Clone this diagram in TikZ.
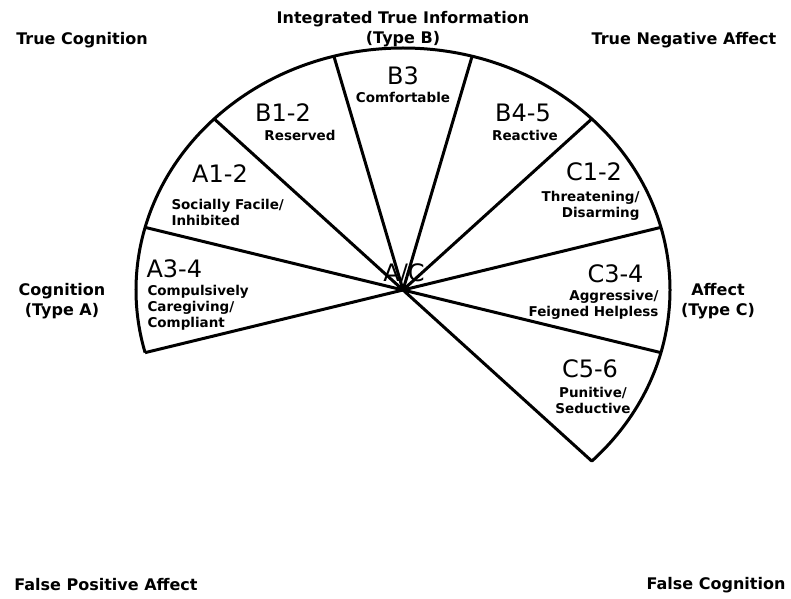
\documentclass[tikz,border=0pt]{standalone}
\usepackage{fontspec}
\newfontfamily\dejavu{DejaVu Sans}

\begin{document}
\begin{tikzpicture}[x=1pt,y=1pt,line width=3pt,line join=round,
  corner/.style={font=\dejavu\bfseries\fontsize{16}{19.5}\selectfont,align=center,inner sep=0pt},
  code/.style={font=\dejavu\fontsize{24}{26}\selectfont,inner sep=0pt},
  desc/.style={font=\dejavu\bfseries\fontsize{13.5}{16}\selectfont,inner sep=0pt}]

\useasboundingbox (0,0) rectangle (791,598);

\coordinate (c) at (403,308);
\foreach \a [count=\i] in {195,165,...,-45}
  \path (c) ++(\a:267 and 242) coordinate (e\i);

\draw (e1) -- (c) -- (e9) arc[start angle=-45,end angle=195,x radius=267,y radius=242];
\foreach \i in {2,...,8}
  \draw (c) -- (e\i);

\node [code] (b3) at (403,522) {B3};
\node [desc] (b3d) at (403,501) {Comfortable};
\node [code] (b12) at (283,485) {B1-2};
\node [desc] (b12d) at (300,463) {Reserved};
\node [code] (b45) at (523,485) {B4-5};
\node [desc] (b45d) at (525,463) {Reactive};

\node [code] (a12) at (220,424) {A1-2};
\node [desc,align=left,anchor=west] (a12d) at (170,386) {Socially Facile/\\Inhibited};
\node [code,anchor=west] (a34) at (145,329) {A3-4};
\node [desc,align=left,anchor=west] (a34d) at (146,290) {Compulsively\\Caregiving/\\Compliant};

\node [code] (c12) at (594,426) {C1-2};
\node [desc,align=right,anchor=east] (c12d) at (641,392) {Threatening/\\Disarming};
\node [code,anchor=east] (c34) at (645,324) {C3-4};
\node [desc,align=right,anchor=east] (c34d) at (660,293) {Aggressive/\\Feigned Helpless};
\node [code] (c56) at (590,229) {C5-6};
\node [desc,align=center] (c56d) at (593,198) {Punitive/\\Seductive};

\node [code] (ac) at (404,324) {A/C};

\node [corner] (tc) at (82,558) {True Cognition};
\node [corner] (iti) at (403,569) {Integrated True Information\\(Type B)};
\node [corner] (tna) at (684,558) {True Negative Affect};
\node [corner] (cog) at (62,297) {Cognition\\(Type A)};
\node [corner] (aff) at (718,297) {Affect\\(Type C)};
\node [corner] (fpa) at (106,13) {False Positive Affect};
\node [corner] (fc) at (716,13) {False Cognition};

\end{tikzpicture}
\end{document}
